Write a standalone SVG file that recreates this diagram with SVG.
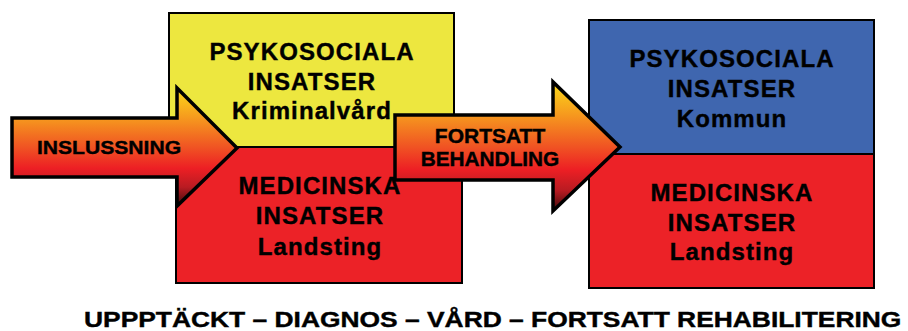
<svg xmlns="http://www.w3.org/2000/svg" width="908" height="331" viewBox="0 0 908 331">
  <defs>
    <linearGradient id="arrowFill" x1="0" y1="0" x2="0" y2="1">
      <stop offset="0" stop-color="#FBDA19"/>
      <stop offset="0.25" stop-color="#F69A1E"/>
      <stop offset="0.5" stop-color="#F05423"/>
      <stop offset="0.68" stop-color="#ED1F24"/>
      <stop offset="0.84" stop-color="#B91B22"/>
      <stop offset="1" stop-color="#3D0A0A"/>
    </linearGradient>
    <style>
      .box { stroke: #000; stroke-width: 2; }
      .yellow { fill: #EDE73F; }
      .red { fill: #EC2227; }
      .blue { fill: #3F66AF; }
      .arrow { fill: url(#arrowFill); stroke: #000; stroke-width: 3.5; stroke-linejoin: miter; stroke-miterlimit: 10; }
      text { font-family: "Liberation Sans", Arial, sans-serif; font-weight: bold; fill: #000; stroke: #000; stroke-width: 0.4; }
      .lbl { font-size: 24px; letter-spacing: 1.1px; text-anchor: middle; }
      .alab { font-size: 19px; text-anchor: middle; }
    </style>
  </defs>

  <g id="psyk-kriminalvard">
    <rect class="box yellow" x="169" y="13" width="285" height="134"/>
    <text class="lbl" x="312" y="60">PSYKOSOCIALA</text>
    <text class="lbl" x="312" y="90">INSATSER</text>
    <text class="lbl" x="312" y="119">Kriminalvård</text>
  </g>

  <g id="med-landsting-1">
    <rect class="box red" x="176" y="147" width="286" height="136"/>
    <text class="lbl" x="320" y="194">MEDICINSKA</text>
    <text class="lbl" x="320" y="224">INSATSER</text>
    <text class="lbl" x="320" y="255">Landsting</text>
  </g>

  <g id="psyk-kommun">
    <rect class="box blue" x="589" y="20" width="285" height="134"/>
    <text class="lbl" x="732" y="67">PSYKOSOCIALA</text>
    <text class="lbl" x="732" y="97">INSATSER</text>
    <text class="lbl" x="732" y="127">Kommun</text>
  </g>

  <g id="med-landsting-2">
    <rect class="box red" x="589" y="154" width="285" height="134"/>
    <text class="lbl" x="732" y="201">MEDICINSKA</text>
    <text class="lbl" x="732" y="231">INSATSER</text>
    <text class="lbl" x="732" y="260">Landsting</text>
  </g>

  <g id="connectors">
    <g id="inslussning">
      <polygon class="arrow" points="12,118 177,118 177,88 237,148 177,206 177,177 12,177"/>
      <text class="alab" transform="translate(109,154) scale(1.11,1)">INSLUSSNING</text>
    </g>
    <g id="fortsatt-behandling">
      <polygon class="arrow" points="395,115 553,115 553,82 620,147 553,211 553,180 395,180"/>
      <text class="alab" transform="translate(490,143) scale(1.05,1)" style="font-size:20px">FORTSATT</text>
      <text class="alab" transform="translate(490,166) scale(1.04,1)" style="font-size:20px">BEHANDLING</text>
    </g>
  </g>

  <text transform="translate(84,327) scale(1.2,1)" font-size="22">UPPPTÄCKT – DIAGNOS – VÅRD – FORTSATT REHABILITERING</text>
</svg>
